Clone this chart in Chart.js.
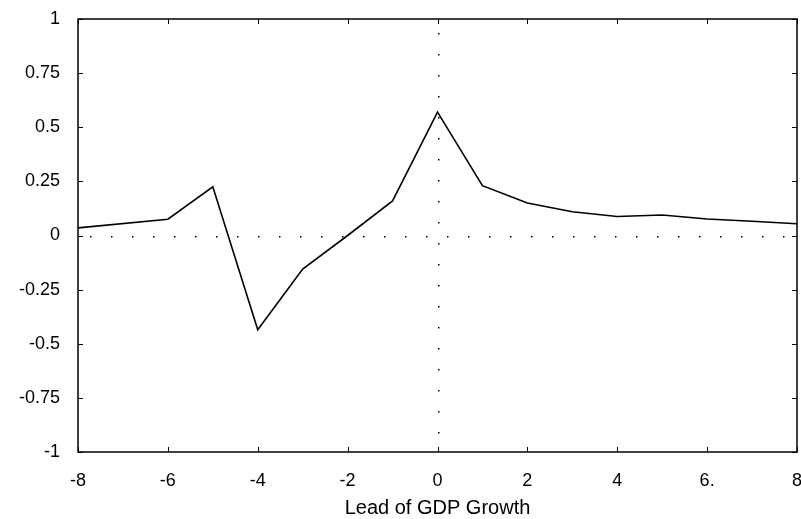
<!DOCTYPE html>
<html>
<head>
<meta charset="utf-8">
<script src="https://cdn.jsdelivr.net/npm/chart.js@4/dist/chart.umd.min.js"></script>
<style>
  html, body { margin: 0; padding: 0; background: #fff; }
  #wrap { width: 801px; height: 519px; }
</style>
</head>
<body>
<div id="wrap"><canvas id="chart" width="801" height="519"></canvas></div>
<script>
// lead of GDP growth (quarters) and the correlation
const leads = [-8, -6, -5, -4, -3, -2, -1, 0, 1, 2, 3, 4, 5, 6, 7, 8]
const corr = [0.035, 0.075, 0.225, -0.435, -0.155, 0.0, 0.16, 0.57, 0.23, 0.15, 0.11, 0.088, 0.095, 0.076, 0.066, 0.054]

const xTickValues = [-8, -6, -4, -2, 0, 2, 4, 6, 8]
const xTickLabels = ["-8", "-6", "-4", "-2", "0", "2", "4", "6.", "8"]
const yTickValues = [-1, -0.75, -0.5, -0.25, 0, 0.25, 0.5, 0.75, 1]
const yTickLabels = ["-1", "-0.75", "-0.5", "-0.25", "0", "0.25", "0.5", "0.75", "1"]

const family = "'Liberation Sans', Arial, sans-serif"
const tickFont = {family, size: 18}
const titleFont = {family, size: 20, lineHeight: 1}

// box frame, inward tick marks and dotted zero lines
const framePlugin = {
  id: "frame",
  afterDatasetsDraw(chart) {
    const {ctx, chartArea: a, scales} = chart
    const x = scales.x
    const y = scales.y
    ctx.save()
    ctx.strokeStyle = "#000"
    ctx.fillStyle = "#000"

    // dotted zero lines
    const x0 = Math.round(x.getPixelForValue(0)) + 0.5
    const y0 = Math.round(y.getPixelForValue(0)) + 0.5
    for (let px = a.left + 12; px < a.right - 4; px += 21) {
      ctx.fillRect(px, y0 - 0.5, 1.5, 1.5)
    }
    for (let py = a.top + 14; py < a.bottom - 4; py += 21) {
      ctx.fillRect(x0 - 0.5, py, 1.5, 1.5)
    }

    // frame
    ctx.lineWidth = 1.5
    ctx.strokeRect(a.left, a.top, a.right - a.left, a.bottom - a.top)

    // inward ticks
    ctx.lineWidth = 1
    ctx.beginPath()
    for (const v of xTickValues) {
      const px = Math.round(x.getPixelForValue(v)) + 0.5
      ctx.moveTo(px, a.bottom)
      ctx.lineTo(px, a.bottom - 5)
      ctx.moveTo(px, a.top)
      ctx.lineTo(px, a.top + 5)
    }
    for (const v of yTickValues) {
      const py = Math.round(y.getPixelForValue(v)) + 0.5
      ctx.moveTo(a.left, py)
      ctx.lineTo(a.left + 5, py)
      ctx.moveTo(a.right, py)
      ctx.lineTo(a.right - 5, py)
    }
    ctx.stroke()
    ctx.restore()
  },
}

new Chart(document.getElementById("chart"), {
  type: "line",
  data: {
    datasets: [
      {
        data: leads.map((v, i) => ({x: v, y: corr[i]})),
        borderColor: "#000",
        borderWidth: 1.6,
        pointRadius: 0,
        tension: 0,
        fill: false,
      },
    ],
  },
  options: {
    responsive: false,
    animation: false,
    layout: {padding: {top: 19, right: 4, left: 0, bottom: 0}},
    plugins: {
      legend: {display: false},
      tooltip: {enabled: false},
    },
    scales: {
      x: {
        type: "linear",
        min: -8,
        max: 8,
        afterBuildTicks: (scale) => {
          scale.ticks = xTickValues.map((v) => ({value: v}))
        },
        afterFit: (scale) => {
          scale.height = 67
          scale.paddingLeft = 0
          scale.paddingRight = 0
        },
        grid: {display: false},
        border: {display: false},
        ticks: {
          color: "#000",
          font: tickFont,
          padding: 10,
          maxRotation: 0,
          callback: (v) => xTickLabels[xTickValues.indexOf(v)],
        },
        title: {
          display: true,
          text: "Lead of GDP Growth",
          color: "#000",
          font: titleFont,
          padding: {top: 0, bottom: 1},
        },
      },
      y: {
        type: "linear",
        min: -1,
        max: 1,
        afterBuildTicks: (scale) => {
          scale.ticks = yTickValues.map((v) => ({value: v}))
        },
        afterFit: (scale) => {
          scale.width = 78
          scale.paddingTop = 0
          scale.paddingBottom = 0
        },
        grid: {display: false},
        border: {display: false},
        ticks: {
          color: "#000",
          font: tickFont,
          padding: 10,
          callback: (v) => yTickLabels[yTickValues.indexOf(v)],
        },
      },
    },
  },
  plugins: [framePlugin],
})
</script>
</body>
</html>
